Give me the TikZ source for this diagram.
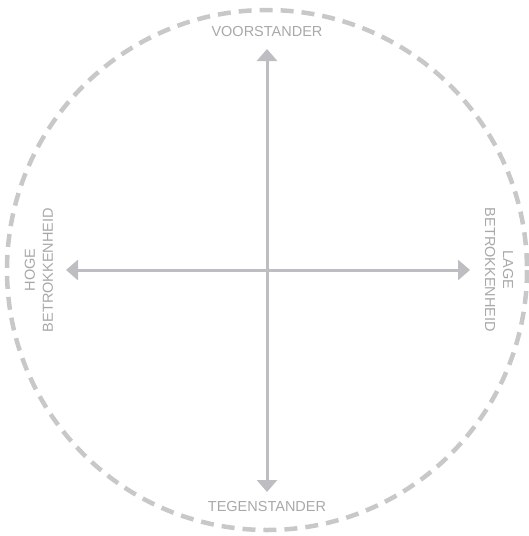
\documentclass[tikz,border=0pt]{standalone}
\usepackage{fontspec}
\setmainfont{Liberation Sans}
\usetikzlibrary{arrows.meta}
\definecolor{ringgray}{RGB}{200,200,202}
\definecolor{axisgray}{RGB}{190,190,194}
\definecolor{labelgray}{RGB}{168,168,170}
\begin{document}
\begin{tikzpicture}[x=1pt,y=-1pt,
  ring/.style={draw=ringgray,line width=4.5pt,dash pattern=on 13pt off 8pt},
  axis/.style={draw=axisgray,line width=3pt,-{Triangle[width=20pt,length=12pt]}},
  lbl/.style={text=labelgray,font=\fontsize{14.5}{16}\selectfont,inner sep=0pt,align=center}]
\useasboundingbox (0,0) rectangle (529,536);
\coordinate (c) at (267,270);
\draw[ring] (c) circle[radius=260];
\coordinate (top) at (267,49);
\coordinate (bot) at (267,492);
\coordinate (lft) at (66,270);
\coordinate (rgt) at (470,270);
\draw[axis] (c) -- (top);
\draw[axis] (c) -- (bot);
\draw[axis] (c) -- (lft);
\draw[axis] (c) -- (rgt);
\node[lbl] (voor) at (267,32) {VOORSTANDER};
\node[lbl] (tegen) at (267,507) {TEGENSTANDER};
\node[lbl,rotate=90,baseline] (hoge) at (39,270) {HOGE\\[2pt]BETROKKENHEID};
\node[lbl,rotate=-90] (lage) at (499,270) {LAGE\\[2pt]BETROKKENHEID};
\end{tikzpicture}
\end{document}
